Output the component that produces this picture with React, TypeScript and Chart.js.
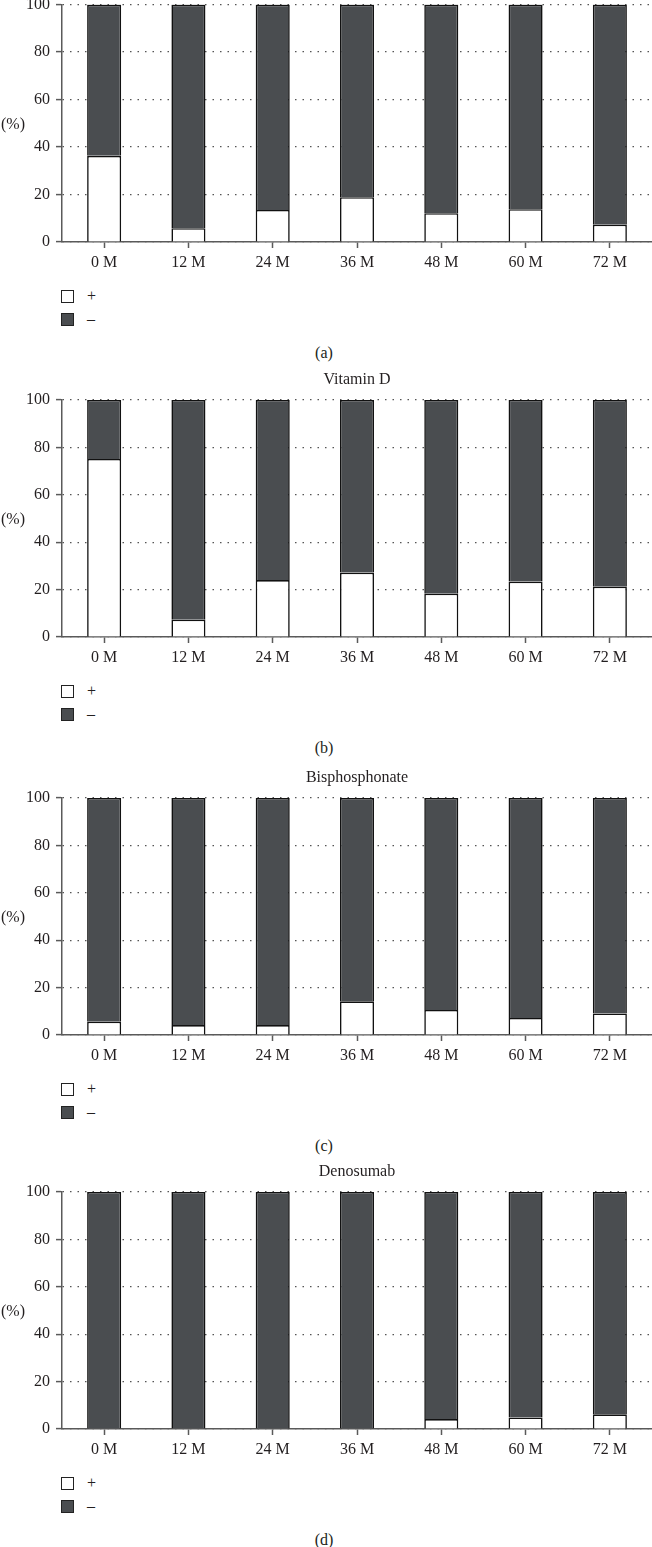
import React, { useEffect, useRef } from 'react';
import { Chart, registerables } from 'chart.js';

Chart.register(...registerables);

// ---------- data ----------
const categories = ['0 M', '12 M', '24 M', '36 M', '48 M', '60 M', '72 M'];
const yTickStep = 20;
const yMin = 0;
const yMax = 100;
const seriesLabels = ['+', '–'];
const panelTitles = ['', 'Vitamin D', 'Bisphosphonate', 'Denosumab'];
const panelCaptions = ['(a)', '(b)', '(c)', '(d)'];

const positiveA = [36.3, 5.8, 13.5, 18.9, 12.1, 13.8, 7.3];
const negativeA = [63.7, 94.2, 86.5, 81.1, 87.9, 86.2, 92.7];
const positiveB = [75.1, 7.3, 24.0, 27.2, 18.3, 23.4, 21.2];
const negativeB = [24.9, 92.7, 76.0, 72.8, 81.7, 76.6, 78.8];
const positiveC = [5.6, 4.2, 4.2, 14.2, 10.6, 7.2, 9.1];
const negativeC = [94.4, 95.8, 95.8, 85.8, 89.4, 92.8, 90.9];
const positiveD = [0, 0, 0, 0, 4.2, 4.9, 6.2];
const negativeD = [100, 100, 100, 100, 95.8, 95.1, 93.8];

const positives = [positiveA, positiveB, positiveC, positiveD];
const negatives = [negativeA, negativeB, negativeC, negativeD];

// ---------- style ----------
const FONT = '"Liberation Serif", "DejaVu Serif", serif';
const TEXT = '#231f20';
const AXIS = '#5a5a5a';
const GRID = '#555555';
const DARK = '#4a4d50';
const EDGE = '#111111';
const PAGE_W = 652;
const PLOT_H = 237;
const AXIS_W = 62;
const XAXIS_H = 40;
const TITLE_H = 40;
const TOP_PAD = 10;
const plotTops = [5, 400, 798, 1192];

function makeConfig(idx: number, title: string): any {
  return {
    type: 'bar',
    data: {
      labels: categories,
      datasets: [
        {
          label: seriesLabels[0],
          data: positives[idx],
          backgroundColor: '#ffffff',
          borderColor: EDGE,
          borderWidth: { top: 1.6, left: 1.6, right: 1.6, bottom: 0 },
          borderSkipped: false,
          barPercentage: 0.404,
          categoryPercentage: 1,
        },
        {
          label: seriesLabels[1],
          data: negatives[idx],
          backgroundColor: DARK,
          borderColor: EDGE,
          borderWidth: { top: 1.6, left: 1.6, right: 1.6, bottom: 0 },
          borderSkipped: false,
          barPercentage: 0.404,
          categoryPercentage: 1,
        },
      ],
    },
    options: {
      responsive: false,
      maintainAspectRatio: false,
      animation: false,
      devicePixelRatio: 1,
      layout: { padding: { top: title ? 0 : TOP_PAD, left: 0, right: 0, bottom: 0 } },
      plugins: {
        legend: { display: false },
        tooltip: { enabled: false },
        title: {
          display: !!title,
          text: title,
          fullSize: false,
          color: TEXT,
          font: { family: FONT, size: 16, weight: 'normal', lineHeight: 1.25 },
          padding: { top: 10, bottom: 10 },
        },
      },
      scales: {
        x: {
          stacked: true,
          grid: {
            display: true,
            drawOnChartArea: false,
            drawTicks: true,
            tickLength: 6,
            offset: false,
            tickColor: AXIS,
            tickWidth: 1.5,
          },
          border: { display: true, color: AXIS, width: 1.5 },
          ticks: {
            color: TEXT,
            font: { family: FONT, size: 16 },
            padding: 5,
            maxRotation: 0,
            autoSkip: false,
          },
          afterFit: (s: any) => {
            s.height = XAXIS_H;
          },
        },
        y: {
          stacked: true,
          min: yMin,
          max: yMax,
          ticks: {
            stepSize: yTickStep,
            color: TEXT,
            font: { family: FONT, size: 16 },
            padding: 6,
          },
          grid: {
            color: GRID,
            lineWidth: 1.2,
            drawTicks: true,
            tickLength: 6,
            tickColor: AXIS,
            tickWidth: 1.5,
            tickBorderDash: [],
          },
          border: { display: true, color: AXIS, width: 1.5, dash: [1.5, 6] },
          afterFit: (s: any) => {
            s.width = AXIS_W;
          },
        },
      },
    },
  };
}

function Panel({ idx }: { idx: number }) {
  const ref = useRef<HTMLCanvasElement>(null);
  const title = panelTitles[idx];
  const head = title ? TITLE_H : TOP_PAD;
  const T = plotTops[idx];
  const B = T + PLOT_H;
  const canvasH = head + PLOT_H + XAXIS_H;

  useEffect(() => {
    const canvas = ref.current as HTMLCanvasElement;
    canvas.width = PAGE_W;
    canvas.height = canvasH;
    let chart = new Chart(canvas, makeConfig(idx, title));
    const top0 = Math.round(chart.chartArea.top);
    const needH = top0 + PLOT_H + XAXIS_H;
    if (needH !== canvasH) {
      chart.destroy();
      canvas.width = PAGE_W;
      canvas.height = needH;
      canvas.style.width = `${PAGE_W}px`;
      canvas.style.height = `${needH}px`;
      chart = new Chart(canvas, makeConfig(idx, title));
    }
    canvas.style.top = `${Math.round(T - chart.chartArea.top)}px`;
    return () => chart.destroy();
  }, [idx]);

  const text: React.CSSProperties = {
    position: 'absolute',
    fontFamily: FONT,
    fontSize: 16,
    color: TEXT,
    lineHeight: '20px',
    whiteSpace: 'nowrap',
  };
  const square = (fill: string): React.CSSProperties => ({
    position: 'absolute',
    left: 61,
    width: 13,
    height: 13,
    boxSizing: 'border-box',
    border: '1.5px solid #222',
    background: fill,
  });

  return (
    <>
      <canvas ref={ref} style={{ position: 'absolute', left: 0, top: T - head }} />
      <div style={{ ...text, left: 1, top: T + PLOT_H / 2 - 10 }}>(%)</div>
      <div style={{ ...square('#ffffff'), top: B + 54 - 6.5 }} />
      <div style={{ ...text, left: 87, top: B + 54 - 10 }}>{seriesLabels[0]}</div>
      <div style={{ ...square(DARK), top: B + 77 - 6.5 }} />
      <div style={{ ...text, left: 87, top: B + 77 - 10 }}>{seriesLabels[1]}</div>
      <div style={{ ...text, left: 274, width: 100, textAlign: 'center', top: B + 110.5 - 10 }}>
        {panelCaptions[idx]}
      </div>
    </>
  );
}

export default function App() {
  return (
    <div
      style={{
        position: 'absolute',
        left: 0,
        top: 0,
        width: PAGE_W,
        height: 1547,
        overflow: 'hidden',
        background: '#ffffff',
      }}
    >
      {[0, 1, 2, 3].map((i) => (
        <Panel key={i} idx={i} />
      ))}
    </div>
  );
}
